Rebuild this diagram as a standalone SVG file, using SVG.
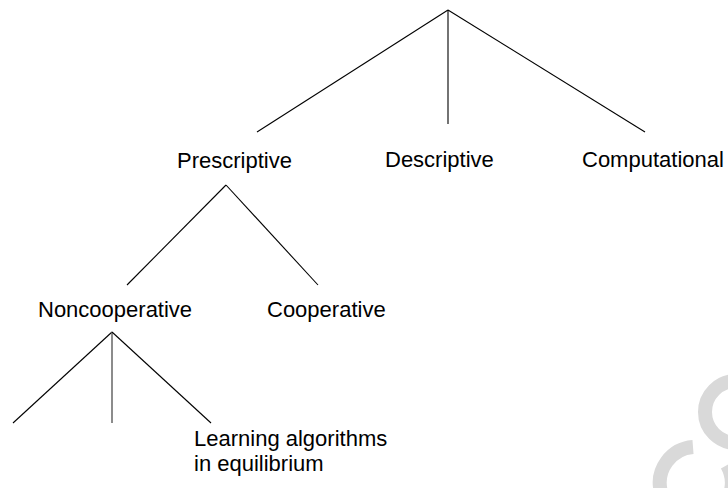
<svg xmlns="http://www.w3.org/2000/svg" width="728" height="488" viewBox="0 0 728 488">
<style>
.lbl{font-family:"Liberation Sans",Arial,sans-serif;font-size:22px;fill:#000}
.edge{stroke:#000;stroke-width:1.1;fill:none}
.wm{stroke:#d9d9d9;stroke-width:14;fill:none}
</style>
<rect width="728" height="488" fill="#fff"/>
<g id="watermark">
<circle class="wm" cx="736" cy="412" r="31"/>
<path class="wm" d="M727,465 A36,36 0 1 1 693,447"/>
</g>
<g id="connectors">
<line class="edge" x1="448" y1="10" x2="257" y2="132"/>
<line class="edge" x1="448" y1="10" x2="448" y2="124"/>
<line class="edge" x1="448" y1="10" x2="645" y2="132"/>
<line class="edge" x1="226" y1="185" x2="127" y2="285"/>
<line class="edge" x1="226" y1="185" x2="318" y2="285"/>
<line class="edge" x1="112" y1="332" x2="13" y2="423"/>
<line class="edge" x1="112" y1="332" x2="112" y2="423" style="stroke:#666;stroke-width:1.5"/>
<line class="edge" x1="112" y1="332" x2="211" y2="423"/>
</g>
<g id="prescriptive"><text class="lbl" x="177" y="168">Prescriptive</text></g>
<g id="descriptive"><text class="lbl" x="385" y="167">Descriptive</text></g>
<g id="computational"><text class="lbl" x="582" y="167">Computational</text></g>
<g id="noncooperative"><text class="lbl" x="38" y="317">Noncooperative</text></g>
<g id="cooperative"><text class="lbl" x="267" y="317">Cooperative</text></g>
<g id="learning">
<text class="lbl" x="194" y="446">Learning algorithms</text>
<text class="lbl" x="194" y="471">in equilibrium</text>
</g>
</svg>
